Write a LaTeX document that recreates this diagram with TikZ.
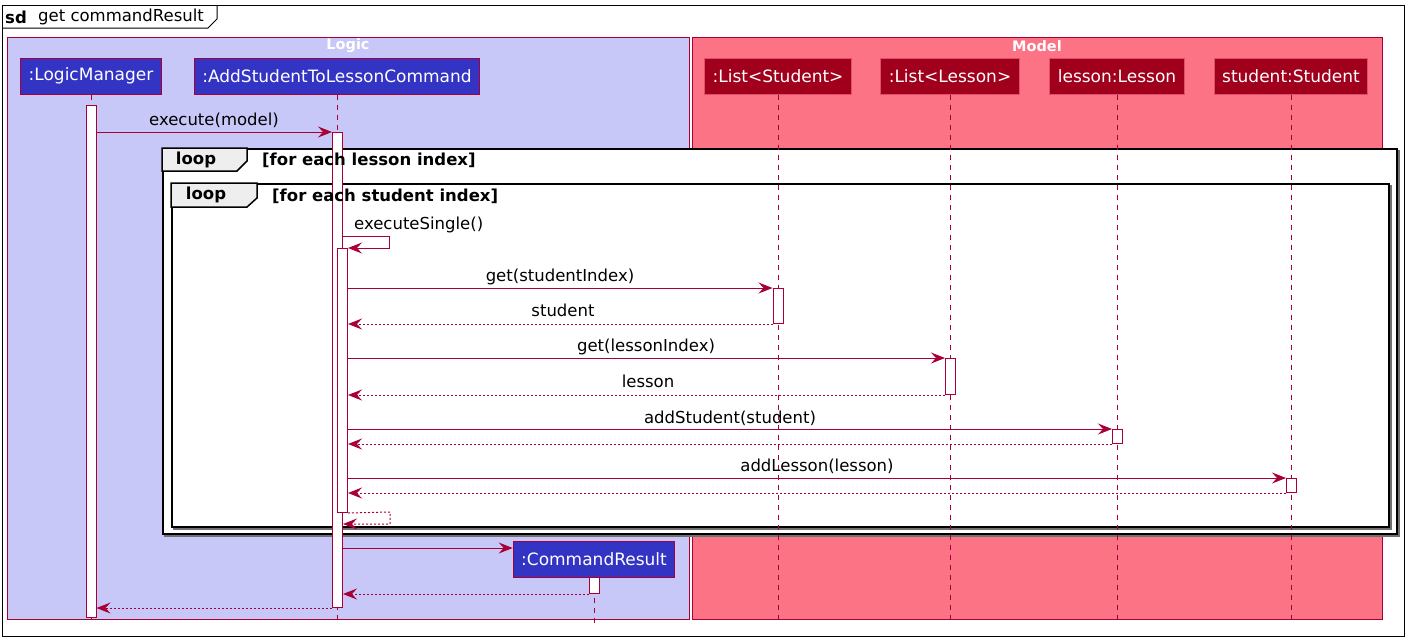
\documentclass[tikz,border=0pt]{standalone}
\usepackage{fontspec}
\setmainfont{DejaVu Sans}
\usetikzlibrary{arrows.meta,calc}
\definecolor{crim}{HTML}{A80036}
\definecolor{logicbg}{HTML}{C8C8F8}
\definecolor{modelbg}{HTML}{FB7384}
\definecolor{pblue}{HTML}{3434C4}
\definecolor{pred}{HTML}{A0001C}
\definecolor{predline}{HTML}{E0506A}
\definecolor{tabgray}{HTML}{EEEEEE}
\definecolor{shadow}{HTML}{707070}
\begin{document}
\begin{tikzpicture}[x=1pt,y=-1pt,
  grp/.style={draw=crim, line width=1pt, inner sep=0pt, anchor=north west},
  grptitle/.style={text=white, font=\bfseries\fontsize{14.5}{16}\selectfont, inner sep=0pt},
  part/.style={draw=crim, line width=1pt, text=white, font=\fontsize{17}{20}\selectfont, minimum height=36pt, inner xsep=8pt, inner ysep=0pt},
  lblue/.style={part, fill=pblue},
  lred/.style={part, fill=pred, draw=predline},
  life/.style={draw=crim, line width=1pt, dash pattern=on 5pt off 5pt},
  act/.style={draw=crim, fill=white, line width=1pt, minimum width=10pt, inner sep=0pt, anchor=north},
  msg/.style={draw=crim, line width=1pt, -{Stealth[length=14pt,width=11pt,inset=5pt]}},
  ret/.style={msg, dash pattern=on 2pt off 2pt},
  mlabel/.style={font=\fontsize{16.5}{19}\selectfont, anchor=base, inner sep=0pt},
  framebox/.style={draw=black, line width=1.5pt, fill=white},
  shadowbox/.style={draw=shadow, line width=1.5pt},
  tabbox/.style={draw=black, line width=1.5pt, fill=tabgray},
  tabtext/.style={font=\bfseries\fontsize{16.5}{19}\selectfont, inner sep=0pt},
  condtext/.style={font=\bfseries\fontsize{16.5}{19}\selectfont, inner sep=0pt, anchor=west}
]
\useasboundingbox (0,0) rectangle (1409,641);
\fill[white] (0,0) rectangle (1409,641);

% outer sd frame
\draw[black, line width=1pt] (2,5) rectangle (1404,636);
\draw[black, line width=1pt] (2,28) -- (208,28) -- (217,19) -- (217,5);
\node[font=\bfseries\fontsize{16.5}{19}\selectfont, inner sep=0pt, anchor=west] (sdk) at (5,17) {sd};
\node[font=\fontsize{16.5}{19}\selectfont, inner sep=0pt, anchor=west] (sdt) at (38,17) {get commandResult};

% groups
\node[grp, fill=logicbg, minimum width=682pt, minimum height=582pt] (logic) at (7,37) {};
\node[grptitle] (logicT) at (348,46) {Logic};
\node[grp, fill=modelbg, minimum width=690pt, minimum height=582pt] (model) at (692,37) {};
\node[grptitle] (modelT) at (1037,46) {Model};

% loop frames
\draw[shadowbox] (165,151) rectangle (1399,536);
\node[framebox, anchor=north west, minimum width=1234pt, minimum height=385pt, inner sep=0pt] (loopA) at (162,148) {};
\draw[tabbox] (162,148) -- (247,148) -- (247,161) -- (237,171) -- (162,171) -- cycle;
\node[tabtext] (loopAk) at (196,160) {loop};

\draw[shadowbox] (174,186) rectangle (1391,529);
\node[framebox, anchor=north west, minimum width=1217pt, minimum height=343pt, inner sep=0pt] (loopB) at (171,183) {};
\draw[tabbox] (171,183) -- (257,183) -- (257,198) -- (247,207) -- (171,207) -- cycle;
\node[tabtext] (loopBk) at (206,195) {loop};

% participants
\node[lblue] (pLM) at (91,76) {:LogicManager};
\node[lblue] (pCmd) at (337,76) {:AddStudentToLessonCommand};
\node[lred] (pLS) at (778,76) {:List<Student>};
\node[lred] (pLL) at (950,76) {:List<Lesson>};
\node[lred] (pL) at (1117,76) {lesson:Lesson};
\node[lred] (pS) at (1291,76) {student:Student};
\node[lblue] (pCR) at (594,559) {:CommandResult};

% lifeline ends
\coordinate (eLM) at (91,620);
\coordinate (eCmd) at (337,620);
\coordinate (eLS) at (778,620);
\coordinate (eLL) at (950,620);
\coordinate (eL) at (1117,620);
\coordinate (eS) at (1291,620);
\coordinate (eCR) at (594,626);

\draw[life] (pLM.south) -- (eLM);
\draw[life] (pCmd.south) -- (eCmd);
\draw[life] (pLS.south) -- (eLS);
\draw[life] (pLL.south) -- (eLL);
\draw[life] (pL.south) -- (eL);
\draw[life] (pS.south) -- (eS);
\draw[life] (pCR.south) -- (eCR);

% activations
\node[act, minimum height=512pt] (aLM) at (91,105) {};
\node[act, minimum height=475pt] (aCmd) at (337.5,132) {};
\node[act, minimum height=264pt] (aCmd2) at (342.5,248) {};
\node[act, minimum height=35pt] (aLS) at (778,288) {};
\node[act, minimum height=36pt] (aLL) at (950.5,358) {};
\node[act, minimum height=14pt] (aL) at (1117.5,429) {};
\node[act, minimum height=14pt] (aS) at (1291.5,478) {};
\node[act, minimum height=16pt] (aCR) at (594,577) {};

% loop conditions
\node[condtext] (condA) at (262,160) {[for each lesson index]};
\node[condtext] (condB) at (272,196) {[for each student index]};

% messages
\draw[msg] (aLM.east |- aCmd.north west) -- (aCmd.north west);
\node[mlabel] (m1) at (214,125) {execute(model)};

\coordinate (self1) at (389,236);
\draw[msg] (aCmd.east |- self1) -- (self1) -- (self1 |- aCmd2.north east) -- (aCmd2.north east);
\node[mlabel, anchor=base west] (m2) at (354,229) {executeSingle()};

\draw[msg] (aCmd2.east |- aLS.north west) -- (aLS.north west);
\node[mlabel] (m3) at (560,281) {get(studentIndex)};
\draw[ret] (aLS.south west) -- (aCmd2.east |- aLS.south west);
\node[mlabel] (m4) at (563,316) {student};

\draw[msg] (aCmd2.east |- aLL.north west) -- (aLL.north west);
\node[mlabel] (m5) at (646,351) {get(lessonIndex)};
\draw[ret] (aLL.south west) -- (aCmd2.east |- aLL.south west);
\node[mlabel] (m6) at (648,387) {lesson};

\draw[msg] (aCmd2.east |- aL.north west) -- (aL.north west);
\node[mlabel] (m7) at (730,423) {addStudent(student)};
\draw[ret] (aL.south west) -- (aCmd2.east |- aL.south west);

\draw[msg] (aCmd2.east |- aS.north west) -- (aS.north west);
\node[mlabel] (m8) at (817,471) {addLesson(lesson)};
\draw[ret] (aS.south west) -- (aCmd2.east |- aS.south west);

\coordinate (self2) at (390,512);
\coordinate (self3) at (390,524);
\draw[ret] (aCmd2.south east) -- (self2) -- (self3) -- (aCmd.east |- self3);

\coordinate (cre) at (343,548);
\draw[msg] (aCmd.east |- cre) -- (pCR.west |- cre);
\draw[ret] (aCR.south west) -- (aCmd.east |- aCR.south west);
\draw[ret] (aCmd.south west) -- (aLM.east |- aCmd.south west);
\end{tikzpicture}
\end{document}
